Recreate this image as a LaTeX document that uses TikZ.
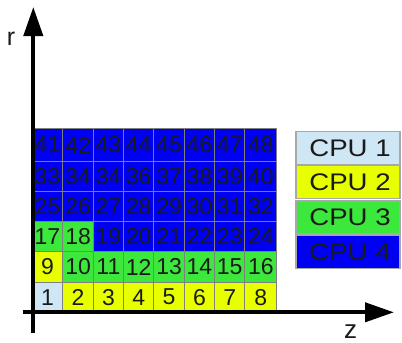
\documentclass[tikz,border=0pt]{standalone}
\usepackage{fontspec}
\setmainfont{Liberation Sans}
\usetikzlibrary{arrows.meta}
\definecolor{cpuA}{HTML}{CFE6F4}
\definecolor{cpuB}{HTML}{E8FF00}
\definecolor{cpuC}{HTML}{3DE83D}
\definecolor{cpuD}{HTML}{0000F2}
\definecolor{gridgray}{HTML}{808080}
\definecolor{legline}{HTML}{A8A8A8}
\definecolor{txt}{HTML}{1A1A1A}
\newcommand{\legtext}[1]{\hspace*{4pt}\scalebox{1.15}[1]{#1}}
\begin{document}
\begin{tikzpicture}[x=1pt,y=-1pt,
  cellbox/.style={draw=gridgray,line width=1pt},
  num/.style={inner sep=0pt,text=txt,font=\fontsize{23}{23}\selectfont},
  legbox/.style={draw=legline,line width=1.5pt,minimum width=104pt,minimum height=33pt,inner sep=0pt,text=txt,font=\fontsize{24}{24}\selectfont},
  axis/.style={line width=4pt,-{Triangle[length=29pt,width=19pt]}},
  axlabel/.style={inner sep=0pt,text=txt}]
\useasboundingbox (0,0) rectangle (402,343);
\def\xs{{32,62.8,93.3,123.5,153.8,184.3,214.5,244.8,276.8}}
\def\ys{{312,282.3,251.7,221.7,191.7,161.7,128.3}}
\foreach \r in {1,...,6}{
  \foreach \c in {1,...,8}{
    \pgfmathtruncatemacro\n{(\r-1)*8+\c}
    \pgfmathsetmacro\xa{\xs[\c-1]}
    \pgfmathsetmacro\xb{\xs[\c]}
    \pgfmathsetmacro\ya{\ys[\r-1]}
    \pgfmathsetmacro\yb{\ys[\r]}
    \ifnum\n=1 \def\col{cpuA}\else\ifnum\n<10 \def\col{cpuB}\else\ifnum\n<19 \def\col{cpuC}\else\def\col{cpuD}\fi\fi\fi
    \ifnum\n=35 \def\lab{34}\else\edef\lab{\n}\fi
    \path[cellbox,fill=\col] (\xa,\ya) rectangle (\xb,\yb);
    \node[num] (n\n) at ({(\xa+\xb)/2},{(\ya+\yb)/2}) {\lab};
  }
}
\node[legbox,fill=cpuA] (l1) at (348,148.2) {\legtext{CPU 1}};
\node[legbox,fill=cpuB] (l2) at (348,182) {\legtext{CPU 2}};
\node[legbox,fill=cpuC] (l3) at (348,217.5) {\legtext{CPU 3}};
\node[legbox,fill=cpuD] (l4) at (348,252) {\legtext{CPU 4}};
\coordinate (o1) at (33.3,333);
\coordinate (rtip) at (33.3,7);
\coordinate (o2) at (22.7,312.3);
\coordinate (ztip) at (394,312.3);
\draw[axis] (o1) -- (rtip);
\draw[axis] (o2) -- (ztip);
\node[axlabel,font=\fontsize{25}{25}\selectfont] (rl) at (11,39) {r};
\node[axlabel,font=\fontsize{26}{26}\selectfont] (zl) at (350.5,331.5) {z};
\end{tikzpicture}
\end{document}
